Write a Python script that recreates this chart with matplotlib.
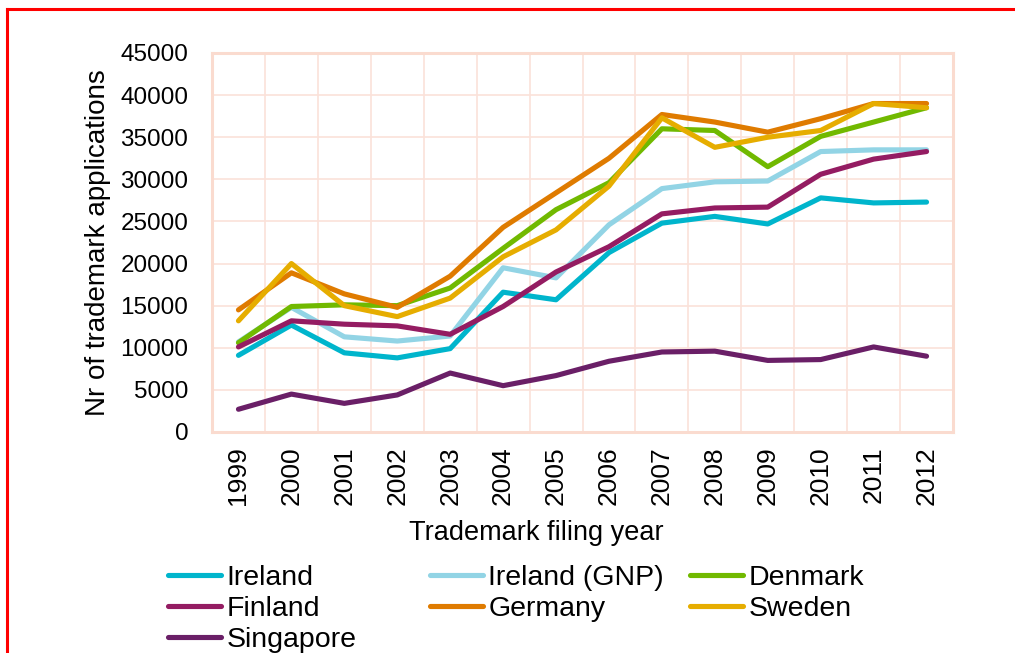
import numpy as np
import matplotlib
matplotlib.use("Agg")
import matplotlib.pyplot as plt
from matplotlib.lines import Line2D

# trademark applications per filing year
years = ['1999', '2000', '2001', '2002', '2003', '2004', '2005',
         '2006', '2007', '2008', '2009', '2010', '2011', '2012']

ireland = [9100, 12700, 9400, 8800, 9900, 16600, 15700,
           21300, 24800, 25600, 24700, 27800, 27200, 27300]
ireland_gnp = [10700, 14800, 11300, 10800, 11400, 19500, 18300,
               24600, 28900, 29700, 29800, 33300, 33500, 33500]
denmark = [10600, 14900, 15100, 15000, 17100, 21800, 26400,
           29600, 36000, 35800, 31500, 35100, 36800, 38500]
finland = [10100, 13200, 12800, 12600, 11600, 14900, 19000,
           22000, 25900, 26600, 26700, 30600, 32400, 33300]
germany = [14500, 18900, 16400, 14800, 18500, 24300, 28400,
           32500, 37700, 36800, 35600, 37200, 39000, 39000]
sweden = [13200, 20000, 15000, 13700, 15900, 20800, 24000,
          29200, 37300, 33800, 35000, 35800, 39000, 38500]
singapore = [2700, 4500, 3400, 4400, 7000, 5500, 6700,
             8400, 9500, 9600, 8500, 8600, 10100, 9000]

series = [
    ('Ireland', ireland, '#00B5CC'),
    ('Ireland (GNP)', ireland_gnp, '#92D4E5'),
    ('Denmark', denmark, '#71B900'),
    ('Finland', finland, '#941C62'),
    ('Germany', germany, '#DF7B00'),
    ('Sweden', sweden, '#E6AD00'),
    ('Singapore', singapore, '#6A1F67'),
]

plt.rcParams['font.family'] = ['Liberation Sans', 'DejaVu Sans']

W, H = 1015, 653
fig = plt.figure(figsize=(W / 100, H / 100), dpi=100)
ax = fig.add_axes([212 / W, 1 - 432 / H, (953 - 212) / W, (432 - 53) / H])

x = np.arange(len(years))
handles = {}
for name, vals, col in series:
    ln, = ax.plot(x, vals, color=col, lw=3.7, solid_capstyle='round',
                  solid_joinstyle='round', label=name)
    handles[name] = ln

grid_col = '#FBE2D9'
ax.set_xlim(-0.5, len(years) - 0.5)
ax.set_ylim(0, 45000)
ax.set_yticks(np.arange(0, 45001, 5000))
ax.set_xticks(x)
ax.set_xticklabels(years, rotation=90)
ax.set_xticks(np.arange(0.5, len(years) - 1, 1), minor=True)
ax.grid(True, axis='y', which='major', color=grid_col, lw=1.2)
ax.grid(True, axis='x', which='minor', color=grid_col, lw=1.2)
ax.set_axisbelow(True)
for s in ax.spines.values():
    s.set_color('#FADBCF')
    s.set_linewidth(2.2)
ax.tick_params(axis='both', which='both', length=0)
ax.tick_params(axis='y', pad=17, labelsize=17.5)
ax.tick_params(axis='x', pad=10, labelsize=19)

ax.set_ylabel('Nr of trademark applications', fontsize=20)
ax.yaxis.set_label_coords(-0.136, 0.5)
ax.set_xlabel('Trademark filing year', fontsize=19.5)
ax.xaxis.set_label_coords(0.437, -0.232)

# legend: three columns placed like the original
cols = [(['Ireland', 'Finland', 'Singapore'], 168),
        (['Ireland (GNP)', 'Germany'], 430),
        (['Denmark', 'Sweden'], 690)]
for names, xpx in cols:
    leg = fig.legend([handles[n] for n in names], names,
                     loc='upper left', bbox_to_anchor=(xpx / W, 1 - 565 / H),
                     frameon=False, fontsize=20.5, handlelength=1.85,
                     handletextpad=0.2, borderpad=0, borderaxespad=0,
                     labelspacing=0.18)

# red frame along top and left edges
fig.add_artist(Line2D([7 / W, 1], [1 - 9 / H, 1 - 9 / H], color='red', lw=2.2))
fig.add_artist(Line2D([7 / W, 7 / W], [0, 1 - 9 / H], color='red', lw=2.2))

fig.savefig('out.png', dpi=100)
